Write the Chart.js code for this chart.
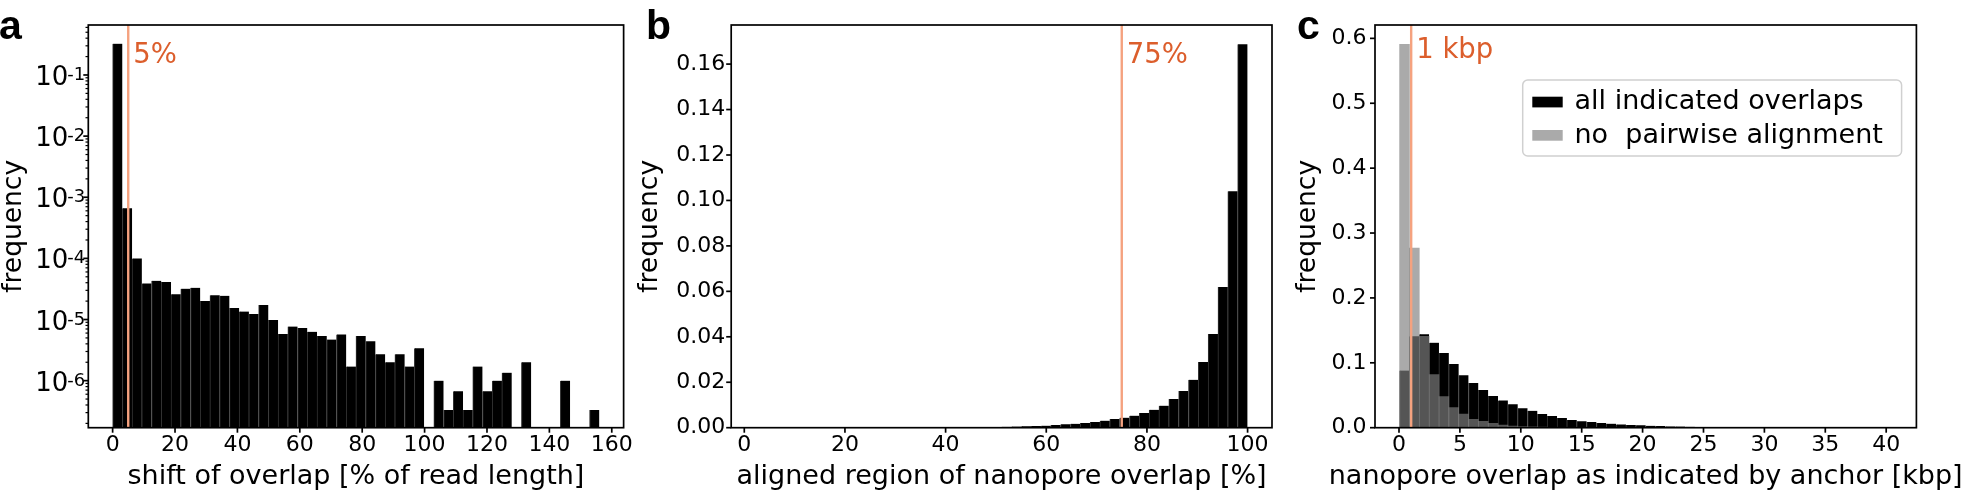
<!DOCTYPE html>
<html>
<head>
<meta charset="utf-8">
<script src="https://cdn.jsdelivr.net/npm/chart.js@4.4.1/dist/chart.umd.min.js"></script>
<style>
  html, body { margin: 0; padding: 0; background: #fff; }
  body { width: 1961px; height: 491px; position: relative; overflow: hidden; }
  canvas { position: absolute; top: 0; }
</style>
</head>
<body>
<canvas id="panelA" width="640" height="491" style="left:0px"></canvas>
<canvas id="panelB" width="650" height="491" style="left:630px"></canvas>
<canvas id="panelC" width="691" height="491" style="left:1270px"></canvas>
<script>
var colorBarra = "#000";
var colorSinAlineamiento = "rgba(128,128,128,0.667)";
var colorLinea = "#f5a27f";
var colorTextoUmbral = "#dc5e2c";
var fuente = '"DejaVu Sans", sans-serif';

// a: shift of overlap, 50 bins of 3.12 % starting at 0 (null = empty bin)
var shiftBinStart = 0;
var shiftBinWidth = 3.12;
var shiftFreq = [
  0.325, 6.6e-4, 1.0e-4, 3.9e-5, 4.3e-5, 4.1e-5, 2.6e-5, 3.2e-5, 3.3e-5, 2.0e-5,
  2.5e-5, 2.45e-5, 1.55e-5, 1.35e-5, 1.23e-5, 1.73e-5, 9.8e-6, 5.8e-6, 7.7e-6, 7.3e-6,
  6.3e-6, 5.4e-6, 4.7e-6, 5.7e-6, 1.7e-6, 5.4e-6, 4.4e-6, 2.7e-6, 2.0e-6, 2.7e-6,
  1.7e-6, 3.4e-6, null, 1.0e-6, 3.3e-7, 6.7e-7, 3.3e-7, 1.7e-6, 6.7e-7, 1.0e-6,
  1.35e-6, null, 2.0e-6, null, null, null, 1.0e-6, null, null, 3.3e-7
];
var shiftTicksX = [0, 20, 40, 60, 80, 100, 120, 140, 160];

// b: aligned region, 50 bins of 1.954 % starting at 2.28
var alignedBinStart = 2.28;
var alignedBinWidth = 1.954;
var alignedFreq = [
  0.00001, 0.00001, 0.00001, 0.00001, 0.00001, 0.00002, 0.00002, 0.00002, 0.00003, 0.00003,
  0.00003, 0.00004, 0.00004, 0.00005, 0.00005, 0.00006, 0.00007, 0.00008, 0.00009, 0.0001,
  0.00012, 0.00015, 0.0002, 0.00025, 0.0003, 0.0004, 0.0005, 0.0006, 0.0008, 0.0009,
  0.0012, 0.0015, 0.0017, 0.0021, 0.0025, 0.0031, 0.0038, 0.0044, 0.0053, 0.0065,
  0.0079, 0.0097, 0.0126, 0.0161, 0.0211, 0.0289, 0.0412, 0.0619, 0.1041, 0.1687
];
var alignedTicksX = [0, 20, 40, 60, 80, 100];
var alignedTicksY = [0, 0.02, 0.04, 0.06, 0.08, 0.10, 0.12, 0.14, 0.16];

// c: overlap indicated by anchor, 50 bins of 0.808 kbp starting at 0.05
var anchorBinStart = 0.05;
var anchorBinWidth = 0.808;
var anchorAllFreq = [
  0.088, 0.141, 0.144, 0.131, 0.115, 0.098, 0.081, 0.069, 0.058, 0.049,
  0.042, 0.036, 0.030, 0.026, 0.021, 0.018, 0.015, 0.012, 0.010, 0.0088,
  0.0072, 0.0062, 0.0051, 0.0041, 0.0036, 0.0030, 0.0025, 0.0020, 0.0017, 0.0014,
  0.0012, 0.0010, 0.0008, 0.0007, 0.0006, 0.0005, 0.0004, 0.00035, 0.0003, 0.00025,
  0.0002, 0.00017, 0.00014, 0.00012, 0.0001, 0.00008, 0.00006, 0.00005, 0.00004, 0.00003
];
var anchorNoAlnFreq = [
  0.591, 0.277, 0.141, 0.082, 0.048, 0.031, 0.021, 0.013, 0.010, 0.0068,
  0.0042, 0.0026, 0.0018, 0.0013, 0.0010, 0.0007, 0.0005, 0.0004, 0.0003, 0.00025,
  0.0002, 0.00015, 0.00012, 0.0001, 0.00008, 0.00006, 0.00005, 0.00004, 0.00003, 0.00003,
  0.00002, 0.00002, 0.00002, 0.00001, 0.00001, 0.00001, 0.00001, 0.00001, 0.00001, 0.00001,
  0, 0, 0, 0, 0, 0, 0, 0, 0, 0
];
var anchorTicksX = [0, 5, 10, 15, 20, 25, 30, 35, 40];
var anchorTicksY = [0, 0.1, 0.2, 0.3, 0.4, 0.5, 0.6];
var anchorSeries = ["all indicated overlaps", "no  pairwise alignment"];

// histogram bins -> bar points at bin centres
function puntosHistograma(start, width, values) {
  var pts = [];
  for (var i = 0; i < values.length; i++) {
    if (values[i] === null) continue;
    pts.push({ x: start + width * (i + 0.5), y: values[i] });
  }
  return pts;
}

function ticksFijos(values) {
  return function (scale) {
    scale.ticks = values.map(function (v) { return { value: v }; });
  };
}

// decades plus minor ticks for the log axis of panel a
function ticksLog(min, max) {
  var out = [];
  for (var e = -8; e <= 0; e++) {
    for (var m = 1; m <= 9; m++) {
      var v = m * Math.pow(10, e);
      if (v >= min && v <= max) out.push(v);
    }
  }
  return out;
}

function esDecada(v) {
  var e = Math.log10(v);
  return Math.abs(e - Math.round(e)) < 1e-6;
}

// spines, tick marks, axis titles, threshold line, panel letter and legend
var marcoPlugin = {
  id: "marco",
  afterDatasetsDraw: function (chart, args, o) {
    var ctx = chart.ctx, area = chart.chartArea;
    var x = chart.scales.x.getPixelForValue(o.umbral);
    ctx.save();
    ctx.strokeStyle = colorLinea;
    ctx.lineWidth = 2.4;
    ctx.beginPath();
    ctx.moveTo(x, area.top);
    ctx.lineTo(x, area.bottom);
    ctx.stroke();
    ctx.fillStyle = colorTextoUmbral;
    ctx.font = "27.5px " + fuente;
    ctx.textBaseline = "alphabetic";
    ctx.textAlign = "left";
    ctx.fillText(o.umbralTexto, x + 5, o.umbralY);
    ctx.restore();
  },
  afterDraw: function (chart, args, o) {
    var ctx = chart.ctx, area = chart.chartArea;
    var sx = chart.scales.x, sy = chart.scales.y;
    ctx.save();
    ctx.strokeStyle = "#000";
    ctx.fillStyle = "#000";
    sx.ticks.forEach(function (t) {
      var px = sx.getPixelForValue(t.value);
      ctx.lineWidth = 1.7;
      ctx.beginPath(); ctx.moveTo(px, area.bottom); ctx.lineTo(px, area.bottom + 5); ctx.stroke();
    });
    sy.ticks.forEach(function (t) {
      var py = sy.getPixelForValue(t.value);
      var mayor = o.log ? esDecada(t.value) : true;
      ctx.lineWidth = mayor ? 1.7 : 1.2;
      ctx.beginPath(); ctx.moveTo(area.left - (mayor ? 5 : 2.8), py); ctx.lineTo(area.left, py); ctx.stroke();
      // log labels: 10 with a raised exponent
      if (o.log && mayor) {
        var exp = "-" + String(-Math.round(Math.log10(t.value)));
        ctx.textBaseline = "alphabetic";
        ctx.textAlign = "right";
        ctx.font = "18px " + fuente;
        var xr = area.left - 3;
        ctx.fillText(exp, xr, py + 5);
        var w = ctx.measureText(exp).width;
        ctx.font = "26px " + fuente;
        ctx.fillText("10", xr - w + 1, py + 10);
      }
    });
    ctx.lineWidth = 1.7;
    ctx.strokeRect(area.left, area.top, area.right - area.left, area.bottom - area.top);

    // axis titles
    ctx.font = "27px " + fuente;
    ctx.textAlign = "center";
    ctx.textBaseline = "alphabetic";
    ctx.fillText(o.tituloX, (area.left + area.right) / 2, 484.3);
    ctx.save();
    ctx.translate(o.tituloYX, (area.top + area.bottom) / 2);
    ctx.rotate(-Math.PI / 2);
    ctx.textBaseline = "middle";
    ctx.font = "26.5px " + fuente;
    ctx.fillText("frequency", 0, 0);
    ctx.restore();

    ctx.textAlign = "left";
    ctx.font = "bold 41px 'Liberation Sans', Arial, sans-serif";
    ctx.fillText(o.letra, o.letraX, 39);

    if (o.leyenda) {
      var L = o.leyenda;
      ctx.beginPath();
      ctx.roundRect(L.x0, L.y0, L.x1 - L.x0, L.y1 - L.y0, 5);
      ctx.fillStyle = "rgba(255,255,255,0.8)";
      ctx.fill();
      ctx.strokeStyle = "#d0d0d0";
      ctx.lineWidth = 1.5;
      ctx.stroke();
      ctx.font = "27px " + fuente;
      L.items.forEach(function (it) {
        ctx.fillStyle = it.color;
        ctx.fillRect(L.patchX, it.patchY, 30.4, 10.7);
        ctx.fillStyle = "#000";
        ctx.fillText(it.text, L.textX, it.baseline);
      });
    }
    ctx.restore();
  }
};
Chart.register(marcoPlugin);

function opcionesPanel(p) {
  return {
    responsive: false,
    animation: false,
    events: [],
    layout: { autoPadding: false, padding: { left: 0, top: 25, right: p.padDer, bottom: 0 } },
    scales: {
      x: {
        type: "linear", bounds: "data", offset: false, min: p.xMin, max: p.xMax,
        grid: { display: false, drawTicks: false },
        border: { display: false },
        afterBuildTicks: ticksFijos(p.ticksX),
        afterFit: function (s) { s.height = 63.3; },
        ticks: {
          autoSkip: false, maxRotation: 0, padding: 7, color: "#000",
          font: { family: fuente, size: 22, lineHeight: 1 },
          callback: function (v) { return String(v); }
        }
      },
      y: {
        type: p.logY ? "logarithmic" : "linear", bounds: "data", min: p.yMin, max: p.yMax,
        grid: { display: false, drawTicks: false },
        border: { display: false },
        afterBuildTicks: ticksFijos(p.ticksY),
        afterFit: function (s) { s.width = p.anchoY; },
        ticks: {
          autoSkip: false, padding: p.padTickY, color: "#000",
          font: { family: fuente, size: 22, lineHeight: 1 },
          callback: p.logY ? function () { return ""; } : function (v) { return v.toFixed(p.decY); }
        }
      }
    },
    plugins: {
      legend: { display: false },
      tooltip: { enabled: false },
      marco: p.marco
    }
  };
}

var estiloBarra = {
  backgroundColor: colorBarra,
  borderColor: "#333",
  borderWidth: { left: 1, top: 0, right: 0, bottom: 0 },
  barPercentage: 1,
  categoryPercentage: 1,
  grouped: false
};

new Chart(document.getElementById("panelA"), {
  type: "bar",
  data: {
    datasets: [Object.assign({ label: "shift", data: puntosHistograma(shiftBinStart, shiftBinWidth, shiftFreq) }, estiloBarra)]
  },
  options: opcionesPanel({
    padDer: 10.7, xMin: -7.8, xMax: 163.8, ticksX: shiftTicksX,
    logY: true, yMin: 1.70e-7, yMax: 0.657, ticksY: ticksLog(1.70e-7, 0.657),
    anchoY: 88.3, padTickY: 3,
    marco: { log: true, umbral: 5, umbralTexto: "5%", umbralY: 63.3, letra: "a", letraX: -1,
      tituloX: "shift of overlap [% of read length]", tituloYX: 14 }
  })
});

new Chart(document.getElementById("panelB"), {
  type: "bar",
  data: {
    datasets: [Object.assign({ label: "aligned", data: puntosHistograma(alignedBinStart, alignedBinWidth, alignedFreq) }, estiloBarra)]
  },
  options: opcionesPanel({
    padDer: 8, xMin: -2.6, xMax: 104.85, ticksX: alignedTicksX,
    logY: false, yMin: 0, yMax: 0.1772, ticksY: alignedTicksY, decY: 2,
    anchoY: 101.2, padTickY: 6,
    marco: { umbral: 75, umbralTexto: "75%", umbralY: 63.3, letra: "b", letraX: 16,
      tituloX: "aligned region of nanopore overlap [%]", tituloYX: 20 }
  })
});

new Chart(document.getElementById("panelC"), {
  type: "bar",
  data: {
    datasets: [
      Object.assign({ label: anchorSeries[0], order: 2, data: puntosHistograma(anchorBinStart, anchorBinWidth, anchorAllFreq) }, estiloBarra),
      Object.assign({}, estiloBarra, { label: anchorSeries[1], order: 1, backgroundColor: colorSinAlineamiento, borderWidth: 0,
        data: puntosHistograma(anchorBinStart, anchorBinWidth, anchorNoAlnFreq) })
    ]
  },
  options: opcionesPanel({
    padDer: 44.6, xMin: -1.97, xMax: 42.48, ticksX: anchorTicksX,
    logY: false, yMin: 0, yMax: 0.6206, ticksY: anchorTicksY, decY: 1,
    anchoY: 105, padTickY: 8.5,
    marco: {
      umbral: 1, umbralTexto: "1 kbp", umbralY: 57.7, letra: "c", letraX: 27,
      tituloX: "nanopore overlap as indicated by anchor [kbp]", tituloYX: 38,
      leyenda: {
        x0: 252.7, y0: 80, x1: 631.6, y1: 156, patchX: 262.3, textX: 304.5,
        items: [
          { text: anchorSeries[0], color: "#000", patchY: 96.7, baseline: 109.3 },
          { text: anchorSeries[1], color: "#aaaaaa", patchY: 130, baseline: 142.7 }
        ]
      }
    }
  })
});
</script>
</body>
</html>
